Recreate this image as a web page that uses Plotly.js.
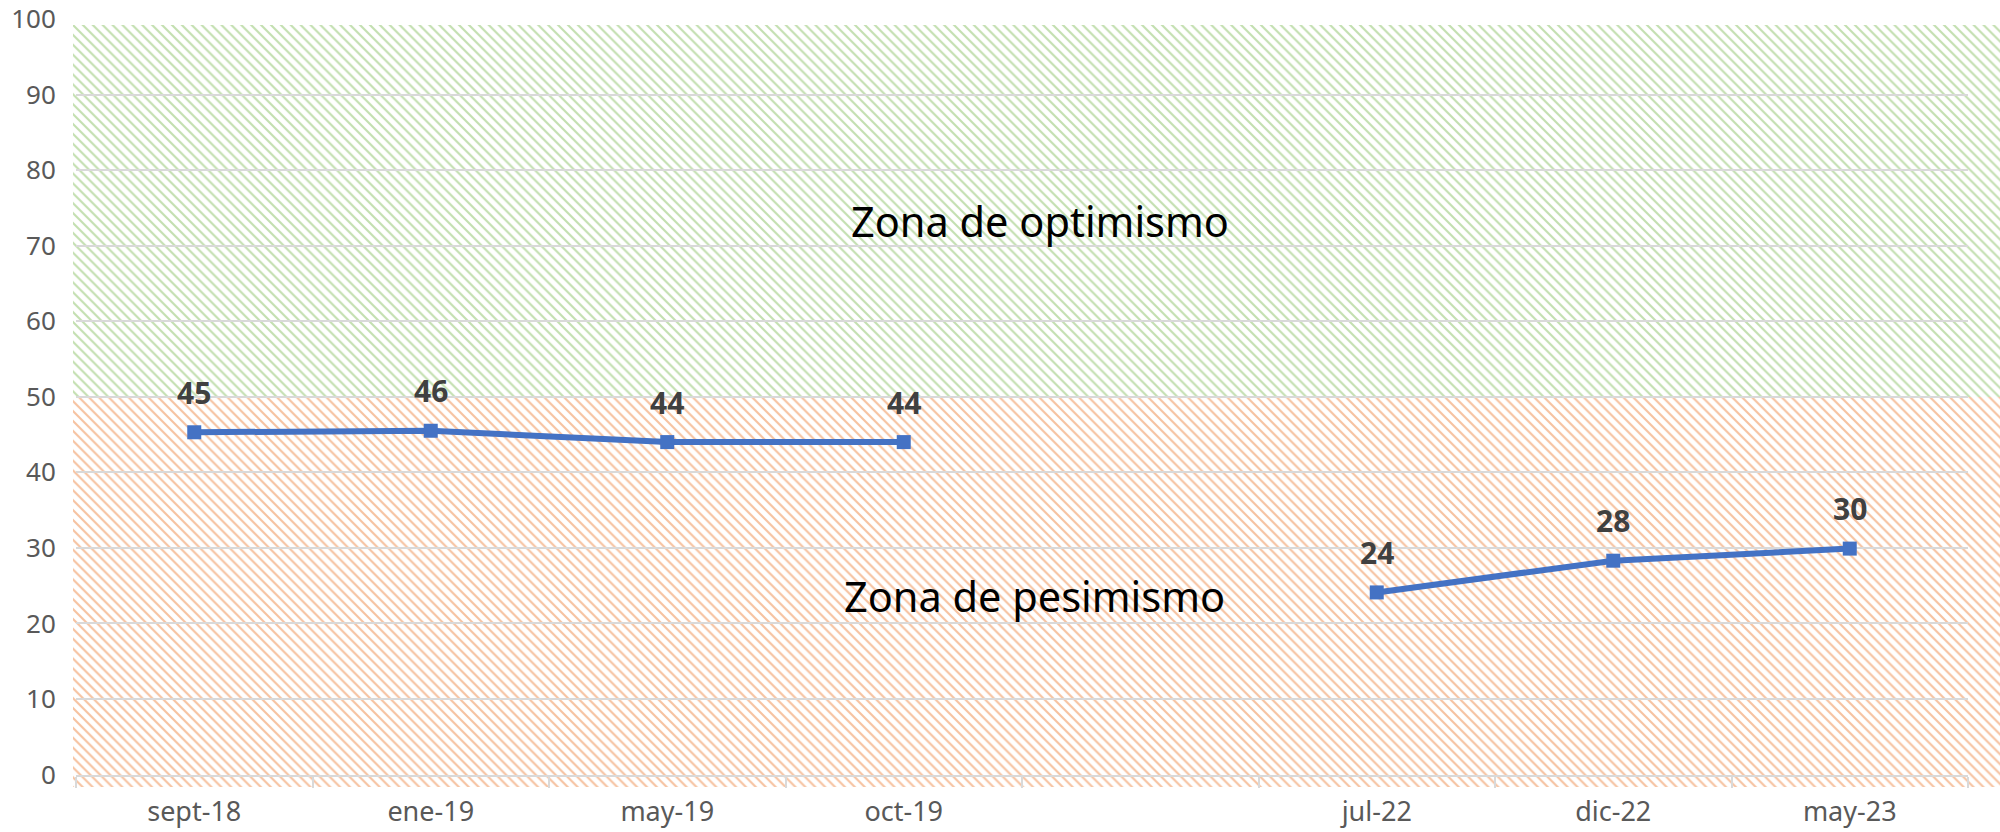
<!DOCTYPE html>
<html>
<head>
<meta charset="utf-8">
<script src="https://cdn.plot.ly/plotly-3.0.1.min.js"></script>
<style>html,body{margin:0;padding:0;background:#fff;}#chart{width:2000px;height:832px;}</style>
</head>
<body>
<div id="chart"></div>
<script>
// ---- data ----
const categories = ['sept-18', 'ene-19', 'may-19', 'oct-19', ' ', 'jul-22', 'dic-22', 'may-23'];
const values = [45.3, 45.5, 44.0, 44.0, null, 24.1, 28.3, 29.9];
const valueLabels = ['45', '46', '44', '44', '', '24', '28', '30'];
const zoneNames = ['Zona de optimismo', 'Zona de pesimismo'];
const zoneFrom = [50, -1.65];
const zoneTo = [99.2, 50];
const zoneLabelY = [73.3, 23.6];
const yTicks = [0, 10, 20, 30, 40, 50, 60, 70, 80, 90, 100];

const zoneColors = ['#c3dfb0', '#f6c2a0'];
const FONT = 'Noto Sans, Open Sans, sans-serif';

const traces = [];
// patterned zones on the background subplot (x, y)
for (let i = 0; i < zoneNames.length; i++) {
  traces.push({
    type: 'bar',
    xaxis: 'x', yaxis: 'y',
    x: [0.5],
    y: [zoneTo[i] - zoneFrom[i]],
    base: [zoneFrom[i]],
    width: [1],
    name: zoneNames[i],
    hoverinfo: 'skip',
    showlegend: false,
    marker: {
      color: '#ffffff',
      line: {width: 0},
      pattern: {shape: '\\', fgcolor: zoneColors[i], bgcolor: '#ffffff', size: 7, solidity: 0.3, fillmode: 'replace'}
    }
  });
}
// main series on the foreground subplot (x2, y2)
traces.push({
  type: 'scatter',
  mode: 'lines+markers',
  xaxis: 'x2', yaxis: 'y2',
  x: categories,
  y: values,
  connectgaps: false,
  line: {color: '#4472c4', width: 6},
  marker: {symbol: 'square', size: 14, color: '#4472c4'},
  showlegend: false,
  hoverinfo: 'x+y'
});

const annotations = [];
categories.forEach((c, i) => {
  if (values[i] === null) return;
  annotations.push({
    xref: 'x2', yref: 'y2', x: c, y: values[i],
    text: '<b>' + valueLabels[i] + '</b>',
    showarrow: false, yanchor: 'middle', yshift: 40,
    font: {family: FONT, size: 30, color: '#404040'}
  });
});
const zoneLabelX = [0.52, 0.517];
zoneNames.forEach((n, i) => {
  annotations.push({
    xref: 'paper', yref: 'y2', x: zoneLabelX[i], y: zoneLabelY[i],
    text: n, showarrow: false, xanchor: 'center', yanchor: 'middle',
    font: {family: FONT, size: 41.5, color: '#000000'}
  });
});

const layout = {
  width: 2000, height: 832,
  margin: {l: 0, r: 0, t: 0, b: 0},
  paper_bgcolor: '#ffffff',
  plot_bgcolor: 'rgba(0,0,0,0)',
  barmode: 'overlay',
  bargap: 0,
  showlegend: false,
  font: {family: FONT, color: '#595959'},
  xaxis: {domain: [0.0365, 1], range: [0, 1], visible: false, fixedrange: true},
  yaxis: {domain: [0.0541, 0.96995], range: [-1.65, 99.2], visible: false, fixedrange: true},
  xaxis2: {
    domain: [0.038, 0.984], anchor: 'y2', type: 'category',
    categoryorder: 'array', categoryarray: categories,
    range: [-0.5, 7.5],
    showgrid: false, zeroline: false,
    showline: true, linecolor: '#d9d9d9', linewidth: 2,
    ticks: 'outside', tickson: 'boundaries', ticklen: 11, tickcolor: '#d9d9d9', tickwidth: 2,
    tickfont: {family: FONT, size: 27, color: '#595959'},
    ticklabelstandoff: 12
  },
  yaxis2: {
    domain: [0.06911, 0.97716], anchor: 'x2', range: [0, 100],
    tickvals: yTicks, ticktext: yTicks.map(String),
    showgrid: true, gridcolor: '#d9d9d9', gridwidth: 2,
    zeroline: false, showline: false,
    ticks: 'outside', ticklen: 14, tickcolor: 'rgba(0,0,0,0)',
    tickfont: {family: FONT, size: 26, color: '#595959'}
  },
  annotations: annotations
};

Plotly.newPlot('chart', traces, layout, {staticPlot: true, displayModeBar: false});
</script>
</body>
</html>
